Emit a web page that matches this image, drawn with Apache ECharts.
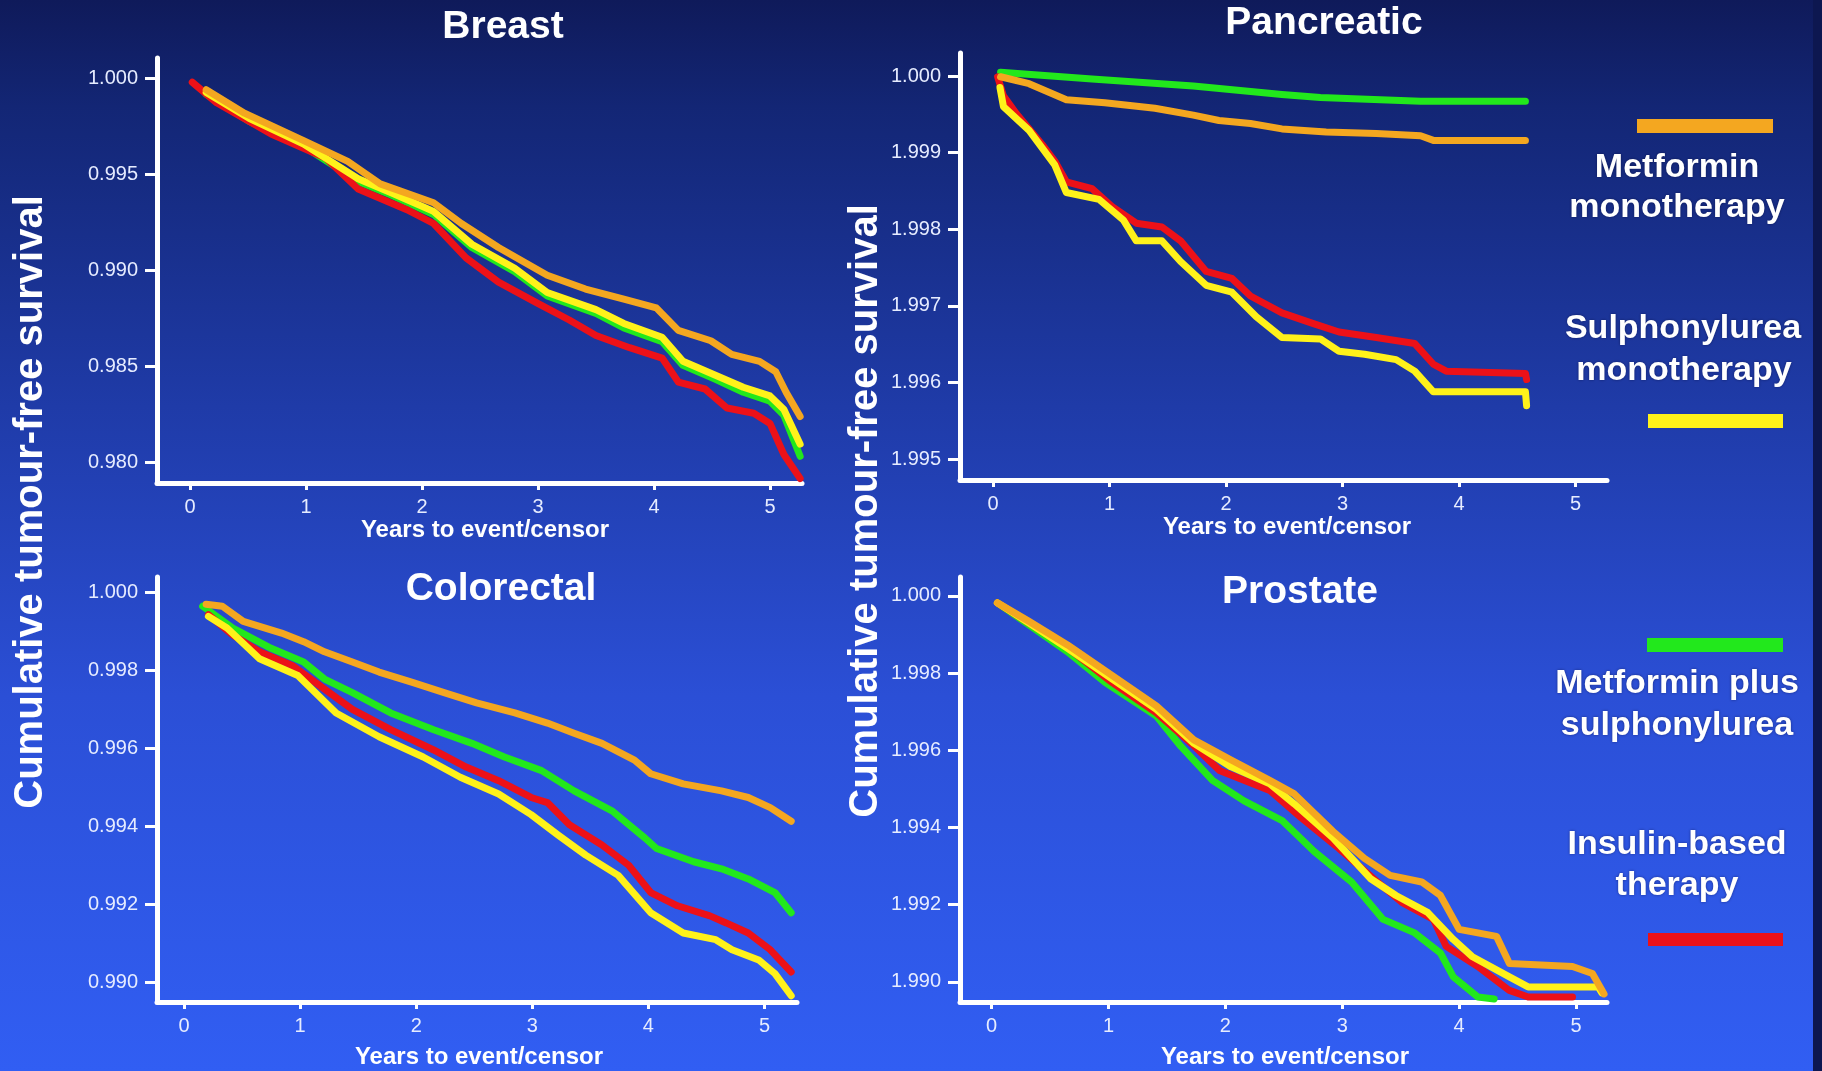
<!DOCTYPE html>
<html>
<head>
<meta charset="utf-8">
<script src="https://cdn.jsdelivr.net/npm/echarts@6/dist/echarts.min.js"></script>
<style>
html,body{margin:0;padding:0;background:#1a2f90;}
#chart{width:1822px;height:1071px;}
</style>
</head>
<body>
<div id="chart"></div>
<script>
// ---------- data ----------
const panelTitles = ['Breast', 'Pancreatic', 'Colorectal', 'Prostate'];
const xAxisName = 'Years to event/censor';
const yAxisName = 'Cumulative tumour-free survival';
const xTicks = [0, 1, 2, 3, 4, 5];
const xTickLabels = ['0', '1', '2', '3', '4', '5'];

const breastYTicks = [1.000, 0.995, 0.990, 0.985, 0.980];
const breastYLabels = ['1.000', '0.995', '0.990', '0.985', '0.980'];
const pancYTicks = [1.000, 0.999, 0.998, 0.997, 0.996, 0.995];
const pancYLabels = ['1.000', '1.999', '1.998', '1.997', '1.996', '1.995'];
const coloYTicks = [1.000, 0.998, 0.996, 0.994, 0.992, 0.990];
const coloYLabels = ['1.000', '0.998', '0.996', '0.994', '0.992', '0.990'];
const prosYTicks = [1.000, 0.998, 0.996, 0.994, 0.992, 0.990];
const prosYLabels = ['1.000', '1.998', '1.996', '1.994', '1.992', '1.990'];

const legendNames = ['Metformin monotherapy', 'Sulphonylurea monotherapy', 'Metformin plus sulphonylurea', 'Insulin-based therapy'];

// Breast
const breastMetformin = [[0.14,0.99939],[0.47,0.99817],[0.98,0.99674],[1.36,0.99566],[1.64,0.99449],[2.10,0.99351],[2.34,0.99243],[2.66,0.99118],[3.08,0.98974],[3.41,0.98902],[3.74,0.98849],[4.02,0.98804],[4.21,0.98687],[4.49,0.98633],[4.67,0.98562],[4.91,0.98526],[5.05,0.98472],[5.14,0.98364],[5.26,0.98239]];
const breastSulph = [[0.14,0.99925],[0.51,0.9979],[0.98,0.99656],[1.45,0.99476],[1.73,0.99404],[2.10,0.99306],[2.43,0.99135],[2.80,0.9901],[3.08,0.98884],[3.50,0.98795],[3.74,0.98723],[4.07,0.98651],[4.25,0.98526],[4.53,0.98454],[4.77,0.98391],[5.0,0.98346],[5.12,0.98275],[5.26,0.98095]];
const breastCombo = [[0.14,0.99915],[0.51,0.99775],[0.98,0.99645],[1.45,0.99462],[1.73,0.99392],[2.10,0.9929],[2.43,0.99118],[2.80,0.98992],[3.08,0.98866],[3.50,0.98775],[3.74,0.987],[4.07,0.98628],[4.25,0.98505],[4.53,0.98432],[4.77,0.98365],[5.0,0.98318],[5.12,0.98245],[5.26,0.98032]];
const breastInsulin = [[0.02,0.99978],[0.23,0.99871],[0.70,0.99709],[1.17,0.99584],[1.45,0.99422],[1.87,0.99315],[2.10,0.99243],[2.38,0.99064],[2.66,0.98938],[2.99,0.9883],[3.27,0.98741],[3.50,0.9866],[3.79,0.98597],[4.07,0.98543],[4.21,0.98418],[4.44,0.98382],[4.63,0.98283],[4.86,0.98256],[5.0,0.98203],[5.12,0.98041],[5.26,0.97916]];

// Pancreatic
const pancMetformin = [[0.065,0.99999],[0.31,0.9999],[0.63,0.99969],[0.96,0.99965],[1.39,0.99958],[1.72,0.99949],[1.94,0.99942],[2.21,0.99938],[2.48,0.99931],[2.86,0.99927],[3.29,0.99925],[3.67,0.99922],[3.78,0.99916],[4.57,0.99916]];
const pancSulph = [[0.06,0.99985],[0.09,0.9996],[0.31,0.99929],[0.53,0.99884],[0.63,0.99848],[0.91,0.99839],[1.12,0.99812],[1.23,0.99785],[1.45,0.99785],[1.61,0.99758],[1.83,0.99727],[2.05,0.99718],[2.26,0.99686],[2.48,0.99659],[2.81,0.99657],[2.97,0.99641],[3.19,0.99637],[3.46,0.9963],[3.62,0.99615],[3.78,0.99588],[4.57,0.99588],[4.58,0.9957]];
const pancCombo = [[0.065,1.00005],[0.85,0.99996],[1.72,0.99987],[2.48,0.99976],[2.81,0.99972],[3.67,0.99967],[4.57,0.99967]];
const pancInsulin = [[0.04,0.99999],[0.09,0.99974],[0.2,0.99951],[0.42,0.99911],[0.53,0.99889],[0.63,0.99862],[0.85,0.99853],[1.02,0.9983],[1.23,0.99808],[1.45,0.99803],[1.61,0.99785],[1.83,0.99745],[2.05,0.99736],[2.21,0.99713],[2.48,0.99691],[2.75,0.99677],[2.97,0.99666],[3.29,0.99659],[3.62,0.99651],[3.78,0.99624],[3.89,0.99615],[4.57,0.99612],[4.58,0.99604]];

// Colorectal
const coloMetformin = [[0.19,0.9997],[0.33,0.99965],[0.51,0.99926],[0.84,0.99896],[1.03,0.99874],[1.21,0.99848],[1.45,0.99822],[1.68,0.99796],[1.96,0.9977],[2.24,0.99743],[2.52,0.99717],[2.85,0.99691],[3.13,0.99665],[3.36,0.99639],[3.60,0.99613],[3.88,0.9957],[4.02,0.99535],[4.30,0.99509],[4.63,0.99491],[4.86,0.99474],[5.05,0.99448],[5.23,0.99413]];
const coloSulph = [[0.21,0.99939],[0.37,0.99909],[0.65,0.9983],[0.98,0.99787],[1.31,0.99691],[1.68,0.9963],[2.06,0.99578],[2.38,0.99526],[2.71,0.99483],[2.99,0.9943],[3.22,0.99378],[3.46,0.99326],[3.74,0.99274],[4.02,0.99178],[4.30,0.99126],[4.58,0.99109],[4.72,0.99083],[4.95,0.99057],[5.09,0.99022],[5.23,0.98965]];
const coloCombo = [[0.16,0.99965],[0.42,0.99909],[0.75,0.99857],[1.03,0.99822],[1.21,0.99778],[1.45,0.99743],[1.78,0.99691],[2.15,0.99648],[2.48,0.99613],[2.76,0.99578],[3.08,0.99543],[3.36,0.99491],[3.69,0.99439],[3.97,0.9937],[4.07,0.99343],[4.39,0.99309],[4.63,0.99291],[4.86,0.99265],[5.09,0.9923],[5.23,0.99178]];
const coloInsulin = [[0.21,0.99943],[0.42,0.99891],[0.65,0.99848],[0.93,0.99813],[1.21,0.99752],[1.45,0.997],[1.78,0.99648],[2.15,0.99596],[2.43,0.99552],[2.71,0.99517],[2.99,0.99474],[3.13,0.99461],[3.32,0.99404],[3.60,0.99352],[3.83,0.993],[4.02,0.9923],[4.25,0.99196],[4.53,0.9917],[4.67,0.99152],[4.86,0.99126],[5.05,0.99083],[5.23,0.99026]];

// Prostate
const prosMetformin = [[0.05,0.99982],[0.32,0.99934],[0.65,0.99873],[1.03,0.99794],[1.41,0.99715],[1.73,0.99627],[2.05,0.99575],[2.38,0.99522],[2.59,0.99487],[2.92,0.9939],[3.19,0.9932],[3.41,0.99276],[3.68,0.99259],[3.84,0.99224],[4.0,0.99136],[4.32,0.99118],[4.43,0.99048],[4.97,0.9904],[5.14,0.99022],[5.24,0.98969]];
const prosSulph = [[0.05,0.99982],[0.32,0.9993],[0.65,0.99864],[1.03,0.99785],[1.41,0.99706],[1.73,0.99618],[2.05,0.99557],[2.38,0.99513],[2.59,0.99461],[2.92,0.99373],[3.24,0.99268],[3.46,0.99224],[3.73,0.9918],[3.95,0.9911],[4.11,0.99066],[4.43,0.99013],[4.59,0.98987],[5.19,0.98987],[5.22,0.98972]];
const prosCombo = [[0.05,0.99982],[0.32,0.99925],[0.65,0.99855],[0.97,0.99776],[1.41,0.99689],[1.62,0.9961],[1.89,0.99522],[2.16,0.99469],[2.49,0.99417],[2.76,0.99338],[3.08,0.99259],[3.35,0.99162],[3.62,0.99127],[3.84,0.99075],[3.95,0.99013],[4.16,0.98961],[4.30,0.98956]];
const prosInsulin = [[0.05,0.99982],[0.32,0.9993],[0.65,0.99866],[1.03,0.99776],[1.41,0.99697],[1.73,0.99612],[1.95,0.99548],[2.38,0.99496],[2.65,0.99425],[2.97,0.99346],[3.30,0.99259],[3.51,0.99206],[3.78,0.99162],[3.89,0.99092],[4.16,0.9904],[4.43,0.98978],[4.59,0.98961],[4.97,0.98961]];

// ---------- chart ----------
const colors = { metformin: '#f4a720', sulph: '#fff21a', combo: '#22e81c', insulin: '#ec1118' };
const chart = echarts.init(document.getElementById('chart'), null, { renderer: 'canvas' });
const FONT = '"Liberation Sans", Arial, Helvetica, sans-serif';

const grids = [
  { left: 157, top: 58, width: 645, height: 425 },
  { left: 960, top: 53, width: 647, height: 427 },
  { left: 157, top: 577, width: 640, height: 425 },
  { left: 960, top: 577, width: 647, height: 425 }
];
const xRanges = [[-0.284, 5.276], [-0.283, 5.27], [-0.233, 5.28], [-0.27, 5.265]];
const yRanges = [[0.97893, 1.00104], [0.99473, 1.0003], [0.98949, 1.0004], [0.98948, 1.00049]];
const yTickSets = [breastYTicks, pancYTicks, coloYTicks, prosYTicks];
const yLabelSets = [breastYLabels, pancYLabels, coloYLabels, prosYLabels];

function lookup(ticks, labels) {
  return function (v) {
    for (let i = 0; i < ticks.length; i++) if (Math.abs(ticks[i] - v) < 1e-7) return labels[i];
    return '';
  };
}

const xAxes = grids.map((g, i) => ({
  type: 'value', gridIndex: i, min: xRanges[i][0], max: xRanges[i][1],
  axisLine: { show: true, onZero: false, lineStyle: { color: '#ffffff', width: 5 } },
  axisTick: { show: true, customValues: xTicks, length: 7, lineStyle: { color: '#ffffff', width: 3 } },
  axisLabel: { customValues: xTicks, formatter: lookup(xTicks, xTickLabels), color: '#e6ecff', fontSize: 20, fontFamily: FONT, margin: 14 },
  splitLine: { show: false }
}));
const yAxes = grids.map((g, i) => ({
  type: 'value', gridIndex: i, min: yRanges[i][0], max: yRanges[i][1],
  axisLine: { show: true, onZero: false, lineStyle: { color: '#ffffff', width: 5 } },
  axisTick: { show: true, customValues: yTickSets[i], length: 12, lineStyle: { color: '#ffffff', width: 3 } },
  axisLabel: { customValues: yTickSets[i], formatter: lookup(yTickSets[i], yLabelSets[i]), color: '#e6ecff', fontSize: 20, fontFamily: FONT, margin: 19 },
  splitLine: { show: false }
}));

const panelSeries = [
  [breastCombo, breastInsulin, breastSulph, breastMetformin],
  [pancCombo, pancInsulin, pancSulph, pancMetformin],
  [coloCombo, coloInsulin, coloSulph, coloMetformin],
  [prosCombo, prosInsulin, prosSulph, prosMetformin]
];
const seriesColors = [colors.combo, colors.insulin, colors.sulph, colors.metformin];
const seriesNames = [legendNames[2], legendNames[3], legendNames[1], legendNames[0]];
const series = [];
panelSeries.forEach((set, p) => {
  set.forEach((data, k) => {
    series.push({
      type: 'line', name: seriesNames[k], xAxisIndex: p, yAxisIndex: p, data: data,
      showSymbol: false, symbol: 'none', smooth: false, clip: false,
      lineStyle: { color: seriesColors[k], width: 7, cap: 'round', join: 'round' },
      itemStyle: { color: seriesColors[k] },
      z: 3 + k
    });
  });
});

const white = '#ffffff';
function txt(text, x, y, font, extra) {
  return Object.assign({
    type: 'text', x: x, y: y, silent: true, z: 50,
    style: { text: text, fill: white, font: font, align: 'center', verticalAlign: 'middle' }
  }, extra || {});
}
const titleFont = 'bold 39px ' + FONT;
const legFont = 'bold 34px ' + FONT;
const nameFont = 'bold 24px ' + FONT;
const ylabFont = 'bold 40px ' + FONT;
const shadow = { textShadowColor: 'rgba(0,0,30,0.45)', textShadowBlur: 3 };
function ltxt(text, x, y) {
  const t = txt(text, x, y, legFont);
  Object.assign(t.style, shadow);
  return t;
}

const graphics = [
  { type: 'rect', shape: { x: 0, y: 0, width: 1822, height: 1071 }, silent: true, z: -100,
    style: { fill: new echarts.graphic.LinearGradient(0, 0, 0, 1, [
      { offset: 0, color: '#0f1a5a' },
      { offset: 0.1, color: '#132675' },
      { offset: 0.38, color: '#1f3ba8' },
      { offset: 0.65, color: '#2b4fd6' },
      { offset: 1, color: '#315ef3' }
    ]) } },
  { type: 'rect', shape: { x: 1813, y: 0, width: 9, height: 1071 }, silent: true, z: -99, style: { fill: '#0d1750' } },
  txt(panelTitles[0], 503, 27, titleFont),
  txt(panelTitles[1], 1324, 23, titleFont),
  txt(panelTitles[2], 501, 589, titleFont),
  txt(panelTitles[3], 1300, 592, titleFont),
  txt(xAxisName, 485, 530, nameFont),
  txt(xAxisName, 1287, 527, nameFont),
  txt(xAxisName, 479, 1057, nameFont),
  txt(xAxisName, 1285, 1057, nameFont),
  txt(yAxisName, 31, 502, ylabFont, { rotation: Math.PI / 2 }),
  txt(yAxisName, 866, 511, ylabFont, { rotation: Math.PI / 2 }),
  // legend
  { type: 'rect', shape: { x: 1637, y: 119, width: 136, height: 14 }, silent: true, z: 50, style: { fill: colors.metformin } },
  ltxt('Metformin', 1677, 168),
  ltxt('monotherapy', 1677, 208),
  ltxt('Sulphonylurea', 1683, 329),
  ltxt('monotherapy', 1684, 371),
  { type: 'rect', shape: { x: 1648, y: 414, width: 135, height: 14 }, silent: true, z: 50, style: { fill: colors.sulph } },
  { type: 'rect', shape: { x: 1647, y: 638, width: 136, height: 14 }, silent: true, z: 50, style: { fill: colors.combo } },
  ltxt('Metformin plus', 1677, 684),
  ltxt('sulphonylurea', 1677, 726),
  ltxt('Insulin-based', 1677, 845),
  ltxt('therapy', 1677, 886),
  { type: 'rect', shape: { x: 1648, y: 933, width: 135, height: 13 }, silent: true, z: 50, style: { fill: colors.insulin } }
];

chart.setOption({
  animation: false,
  backgroundColor: '#1a2f90',
  grid: grids,
  xAxis: xAxes,
  yAxis: yAxes,
  series: series,
  graphic: { elements: graphics }
});
</script>
</body>
</html>
